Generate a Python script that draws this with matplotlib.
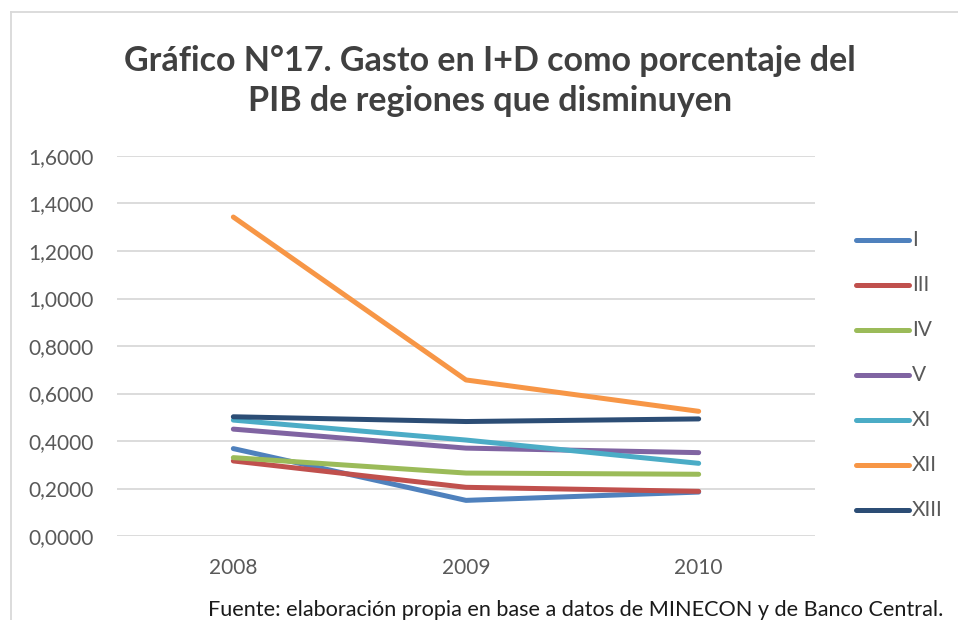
import matplotlib.pyplot as plt
from matplotlib.lines import Line2D

years = ["2008", "2009", "2010"]
regions = ["I", "III", "IV", "V", "XI", "XII", "XIII"]
I = [0.368, 0.150, 0.185]
III = [0.316, 0.205, 0.188]
IV = [0.330, 0.265, 0.260]
V = [0.450, 0.370, 0.351]
XI = [0.488, 0.404, 0.306]
XII = [1.343, 0.657, 0.525]
XIII = [0.502, 0.482, 0.493]
series = [I, III, IV, V, XI, XII, XIII]
colors = ['#4F81BD', '#C0504D', '#9BBB59', '#8064A2', '#4BACC6', '#F79646', '#2C4D75']

plt.rcParams['font.family'] = ['Lato', 'DejaVu Sans']

W, H = 958, 620
fig = plt.figure(figsize=(W / 100, H / 100), dpi=100)
ax = fig.add_axes([117 / W, 1 - 536 / H, (815 - 117) / W, (536 - 156) / H])

x = list(range(len(years)))
for vals, c, name in zip(series, colors, regions):
    ax.plot(x, vals, color=c, linewidth=3.6, solid_capstyle='round', label=name)

ax.set_xlim(-0.5, 2.5)
ax.set_ylim(0, 1.6)
yt = [i * 0.2 for i in range(9)]
ax.set_yticks(yt)
ax.set_yticklabels([("%.4f" % v).replace('.', ',') for v in yt])
ax.set_xticks(x)
ax.set_xticklabels(years)
ax.tick_params(length=0, labelsize=15, labelcolor='#595959')
ax.tick_params(axis='y', pad=17)
ax.tick_params(axis='x', pad=16)
ax.grid(axis='y', color='#D9D9D9', linewidth=1.3)
ax.set_axisbelow(True)
for s in ax.spines.values():
    s.set_visible(False)

# legend drawn as separate entries
for i, (name, c) in enumerate(zip(regions, colors)):
    yy = 1 - (240 + i * 45) / H
    fig.add_artist(Line2D([856 / W, 909 / W], [yy, yy], color=c, linewidth=3.6,
                          solid_capstyle='round'))
    fig.text(912 / W, yy, name, fontsize=15, color='#595959', va='center', ha='left')

fig.text(490 / W, 1 - 81 / H, "Gráfico N°17. Gasto en I+D como porcentaje del\nPIB de regiones que disminuyen",
         ha='center', va='center', fontsize=24.5, fontweight='bold', color='#404040',
         linespacing=1.3)

fig.text(576 / W, 1 - 610 / H, "Fuente: elaboración propia en base a datos de MINECON y de Banco Central.",
         ha='center', va='center', fontsize=15.6, color='#1a1a1a')

# chart frame (left and top edges visible)
fig.add_artist(Line2D([11 / W, 11 / W], [0, 1 - 12 / H], color='#D9D9D9', linewidth=1.3))
fig.add_artist(Line2D([11 / W, 1], [1 - 12 / H, 1 - 12 / H], color='#D9D9D9', linewidth=1.3))

fig.savefig("out.png", dpi=100)
